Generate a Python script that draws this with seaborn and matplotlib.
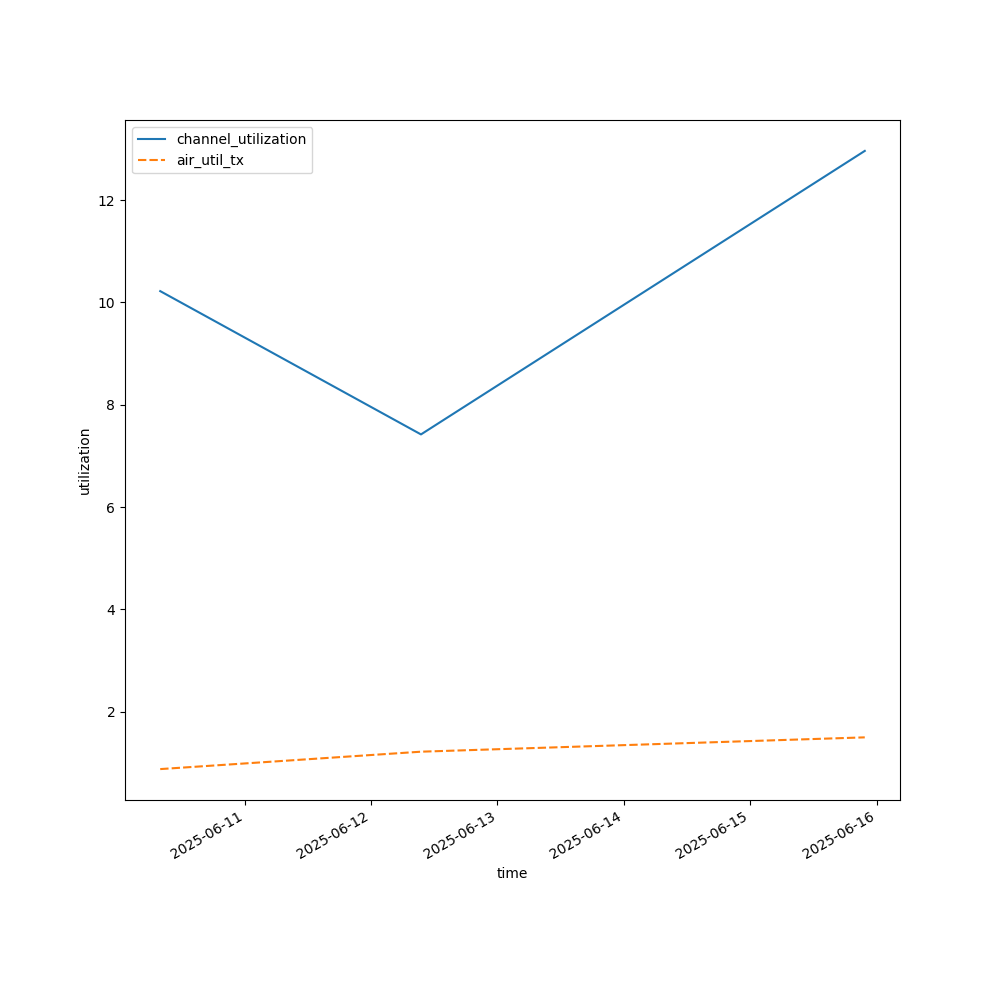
import seaborn as sns
import matplotlib.pyplot as plt
import pandas as pd

times = ["2025-06-10 08:00", "2025-06-12 09:30", "2025-06-15 21:45"]
channel_utilization = [10.22, 7.42, 12.96]
air_util_tx = [0.88, 1.22, 1.50]

df = pd.DataFrame({
    "channel_utilization": channel_utilization,
    "air_util_tx": air_util_tx,
}, index=pd.to_datetime(times))
df.index.name = "time"

fig, ax = plt.subplots(figsize=(10, 10), dpi=100)
sns.lineplot(data=df, ax=ax)
ax.set_xlabel("time")
ax.set_ylabel("utilization")
fig.autofmt_xdate()

plt.savefig("out.png")
